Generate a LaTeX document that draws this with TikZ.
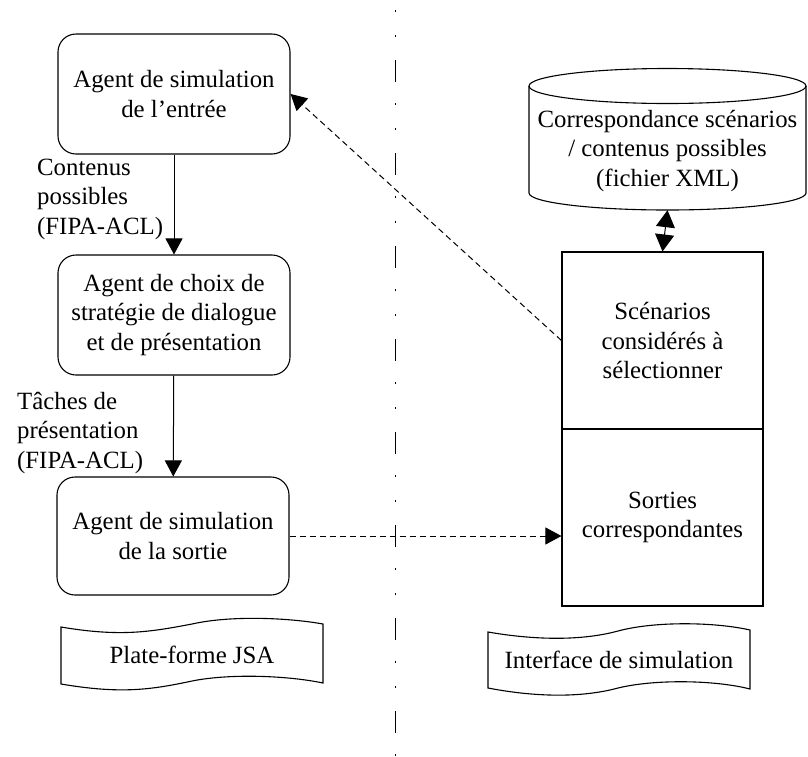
\documentclass[tikz,border=0pt]{standalone}
\usepackage{fontspec}
\setmainfont{Liberation Serif}
\usetikzlibrary{arrows.meta}
\begin{document}
\begin{tikzpicture}[x=1pt,y=-1pt,
  txt/.style={font=\fontsize{24.8pt}{29.5pt}\selectfont, align=center, inner sep=0pt},
  agentbox/.style={txt, draw, line width=1.1pt, rounded corners=18pt,
    minimum width=232pt, minimum height=120pt},
  plainbox/.style={txt, draw, line width=1.1pt, minimum width=201pt, minimum height=177pt},
  lbl/.style={txt, align=left},
  tip/.style={-{Triangle[width=17pt,length=16pt]}},
  flow/.style={line width=1pt, tip},
  dflow/.style={line width=1pt, tip, dash pattern=on 6pt off 4pt},
  outline/.style={line width=1.1pt}
]
\useasboundingbox (0,0) rectangle (808,756);

% separator between the two sides
\coordinate (septop) at (395,0);
\coordinate (sepbot) at (395,756);
\draw[line width=1pt, dash pattern=on 22pt off 21pt on 2pt off 23pt on 2pt off 23pt,
  dash phase=33pt] (septop) -- (sepbot);

% JSA agents
\node[agentbox] (ent) at (174,94) {Agent de simulation\\de l'entrée};
\node[agentbox] (choix) at (174,315) {Agent de choix de\\stratégie de dialogue\\et de présentation};
\node[agentbox, minimum height=118pt] (sort) at (173,536) {Agent de simulation\\de la sortie};

\draw[flow] (ent) -- (choix);
\draw[flow] (choix) -- (sort);
\node[lbl, anchor=west] (l1) at (37,199) {Contenus\\possibles\\(FIPA-ACL)};
\node[lbl, anchor=west] (l2) at (17,433) {Tâches de\\présentation\\(FIPA-ACL)};

% XML database (cylinder); y axis points down, so the lower rim runs 180 -> 0
\draw[outline] (529,86) -- (529,193) arc[start angle=180, end angle=0, x radius=138.5, y radius=17] -- (806,86);
\draw[outline] (667.5,86) ellipse[x radius=138.5, y radius=17.5];
\node[txt, minimum width=277pt, minimum height=118pt] (db) at (667.5,151)
  {Correspondance scénarios\\/ contenus possibles\\(fichier XML)};

% simulation interface table
\node[plainbox] (sc) at (662.5,340.5) {Scénarios\\considérés à\\sélectionner};
\node[plainbox] (so) at (662.5,517.5) {Sorties\\correspondantes};

\draw[line width=1pt, {Triangle[width=19pt,length=17pt]}-{Triangle[width=19pt,length=17pt]}] (db.south) -- (sc.north);

\draw[dflow] (sort.east) -- (sort.east -| so.west);
\draw[dflow] (sc.west) -- (ent.east);

% platform banners
\draw[outline] (61,627) .. controls (120,637) and (150,632) .. (192,624)
  .. controls (232,615) and (290,618) .. (323,624) -- (323,683)
  .. controls (290,676) and (232,673) .. (192,681)
  .. controls (150,690) and (120,694) .. (61,684) -- cycle;
\node[txt] (jsa) at (192,655) {Plate-forme JSA};

\draw[outline] (488,632) .. controls (540,641) and (585,640) .. (618,631)
  .. controls (655,621) and (715,622) .. (750,630) -- (750,689)
  .. controls (715,680) and (655,679) .. (618,688)
  .. controls (585,697) and (540,698) .. (488,688) -- cycle;
\node[txt] (ihm) at (619,660) {Interface de simulation};
\end{tikzpicture}
\end{document}
